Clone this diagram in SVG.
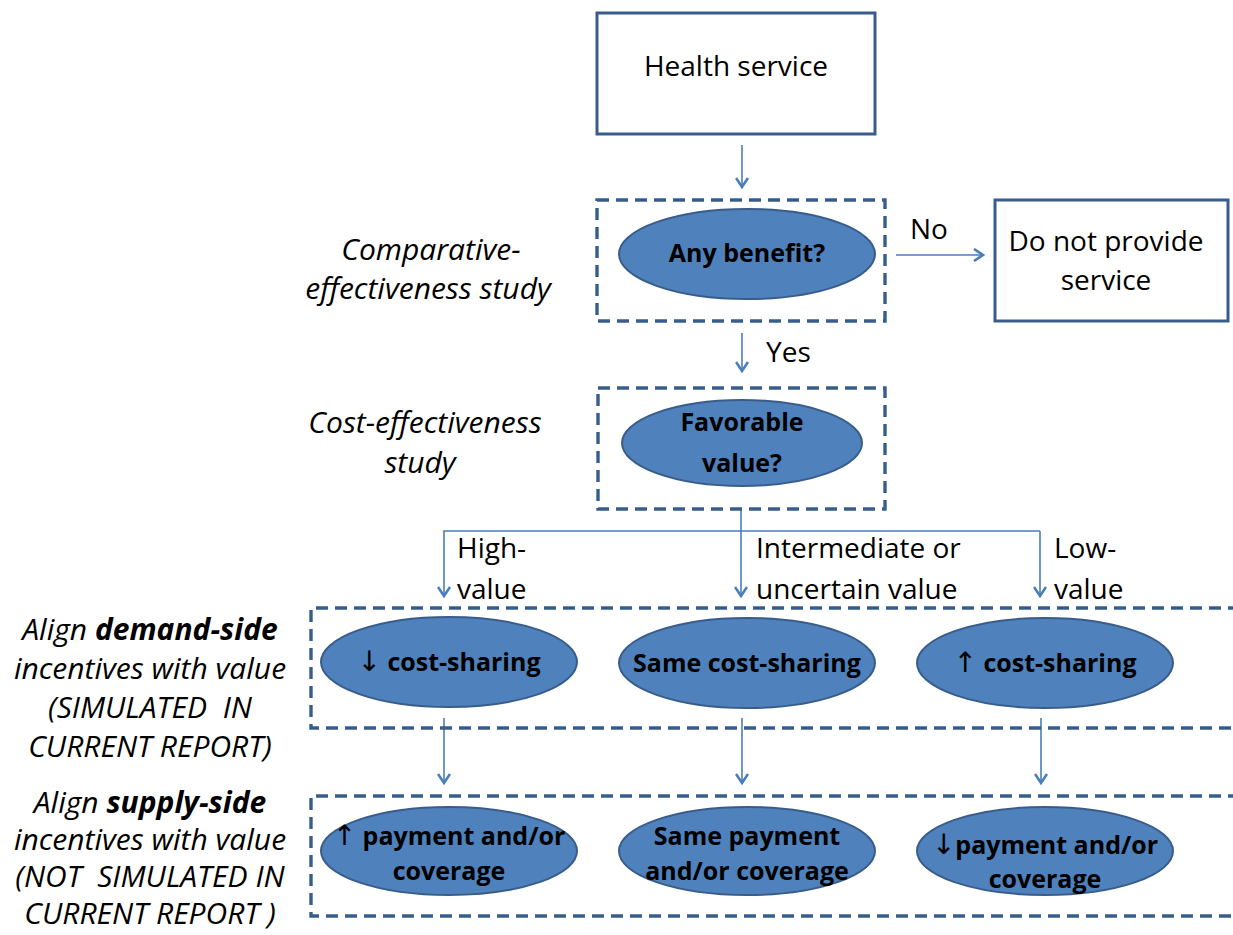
<svg xmlns="http://www.w3.org/2000/svg" width="1233" height="935" viewBox="0 0 1233 935">
<style>
.box{fill:#fff;stroke:#385D8A;stroke-width:3}
.dash{fill:none;stroke:#385D8A;stroke-width:3.4;stroke-dasharray:12 7}
.ell{fill:#4F81BD;stroke:#385D8A;stroke-width:2}
.con{fill:none;stroke:#4A7EBB;stroke-width:1.6}
.t{font-family:"Open Sans","Liberation Sans",sans-serif;font-size:28px;fill:#000;text-anchor:middle}
.l{font-family:"Open Sans","Liberation Sans",sans-serif;font-size:28px;fill:#000}
.i{font-family:"Open Sans","Liberation Sans",sans-serif;font-size:30px;font-style:italic;fill:#000;text-anchor:middle;white-space:pre}
.b{font-family:"Open Sans","Liberation Sans",sans-serif;font-size:25px;font-weight:bold;fill:#000;text-anchor:middle}
.ar{font-family:"DejaVu Sans",sans-serif;font-weight:normal;font-size:28px}
</style>
<defs>
<marker id="ah" markerWidth="14" markerHeight="14" viewBox="0 0 14 14" refX="12" refY="7" orient="auto" markerUnits="userSpaceOnUse">
<path d="M3,1 L12,7 L3,13" fill="none" stroke="#4A7EBB" stroke-width="2.6"/>
</marker>
</defs>

<g id="connectors">
<path class="con" d="M742,145 V187" marker-end="url(#ah)"/>
<path class="con" d="M896,255 H983" marker-end="url(#ah)"/>
<path class="con" d="M742,333 V371" marker-end="url(#ah)"/>
<path class="con" d="M741,509 V596" marker-end="url(#ah)"/>
<path class="con" d="M1040,531 H444 V596" marker-end="url(#ah)"/>
<path class="con" d="M1040,531 V596" marker-end="url(#ah)"/>
<path class="con" d="M444,718 V783" marker-end="url(#ah)"/>
<path class="con" d="M742,718 V783" marker-end="url(#ah)"/>
<path class="con" d="M1041,718 V783" marker-end="url(#ah)"/>
<text class="l" x="910" y="239">No</text>
<text class="l" x="766" y="362">Yes</text>
<text class="l" x="457" y="558">High-</text>
<text class="l" x="457" y="599">value</text>
<text class="l" x="756" y="558">Intermediate or</text>
<text class="l" x="756" y="599">uncertain value</text>
<text class="l" x="1054" y="558">Low-</text>
<text class="l" x="1054" y="599">value</text>
</g>

<g id="health-service">
<rect class="box" x="597" y="13" width="278" height="121"/>
<text class="t" x="736" y="76">Health service</text>
</g>

<g id="comparative-label">
<text class="i" x="431" y="260">Comparative-</text>
<text class="i" x="428" y="299">effectiveness study</text>
</g>

<g id="any-benefit">
<rect class="dash" x="597" y="200" width="288" height="121"/>
<ellipse class="ell" cx="747" cy="254" rx="128" ry="45"/>
<text class="b" x="747" y="262">Any benefit?</text>
</g>

<g id="do-not-provide">
<rect class="box" x="995" y="200" width="233" height="121"/>
<text class="t" x="1106" y="251">Do not provide</text>
<text class="t" x="1106" y="290">service</text>
</g>

<g id="cost-label">
<text class="i" x="425" y="433">Cost-effectiveness</text>
<text class="i" x="420" y="473">study</text>
</g>

<g id="favorable-value">
<rect class="dash" x="598" y="388" width="287" height="121"/>
<ellipse class="ell" cx="742" cy="443" rx="120" ry="43"/>
<text class="b" x="742" y="431">Favorable</text>
<text class="b" x="742" y="472">value?</text>
</g>

<g id="demand-label">
<text class="i" x="150" y="640">Align <tspan font-weight="bold">demand-side</tspan></text>
<text class="i" x="150" y="679">incentives with value</text>
<text class="i" x="150" y="718" xml:space="preserve">(SIMULATED  IN</text>
<text class="i" x="150" y="757">CURRENT REPORT)</text>
</g>

<g id="demand-row">
<path class="dash" d="M1240,608 H311 V728 H1240"/>
</g>
<g id="demand-high">
<ellipse class="ell" cx="449" cy="662" rx="128" ry="45"/>
<text class="b" x="449" y="671"><tspan class="ar">↓</tspan> cost-sharing</text>
</g>
<g id="demand-same">
<ellipse class="ell" cx="747" cy="663" rx="128" ry="45"/>
<text class="b" x="747" y="672">Same cost-sharing</text>
</g>
<g id="demand-low">
<ellipse class="ell" cx="1045" cy="663" rx="128" ry="45"/>
<text class="b" x="1045" y="672"><tspan class="ar">↑</tspan> cost-sharing</text>
</g>

<g id="supply-label">
<text class="i" x="150" y="813">Align <tspan font-weight="bold">supply-side</tspan></text>
<text class="i" x="150" y="850">incentives with value</text>
<text class="i" x="150" y="887" xml:space="preserve">(NOT  SIMULATED IN</text>
<text class="i" x="150" y="924">CURRENT REPORT )</text>
</g>

<g id="supply-row">
<path class="dash" d="M1240,796 H311 V916 H1240"/>
</g>
<g id="supply-high">
<ellipse class="ell" cx="449" cy="851" rx="128" ry="44"/>
<text class="b" x="449" y="845"><tspan class="ar">↑</tspan> payment and/or</text>
<text class="b" x="449" y="880">coverage</text>
</g>
<g id="supply-same">
<ellipse class="ell" cx="747" cy="851" rx="128" ry="44"/>
<text class="b" x="747" y="845">Same payment</text>
<text class="b" x="747" y="880">and/or coverage</text>
</g>
<g id="supply-low">
<ellipse class="ell" cx="1045" cy="851" rx="128" ry="44"/>
<text class="b" x="1045" y="854"><tspan class="ar">↓</tspan>payment and/or</text>
<text class="b" x="1045" y="888">coverage</text>
</g>
</svg>
